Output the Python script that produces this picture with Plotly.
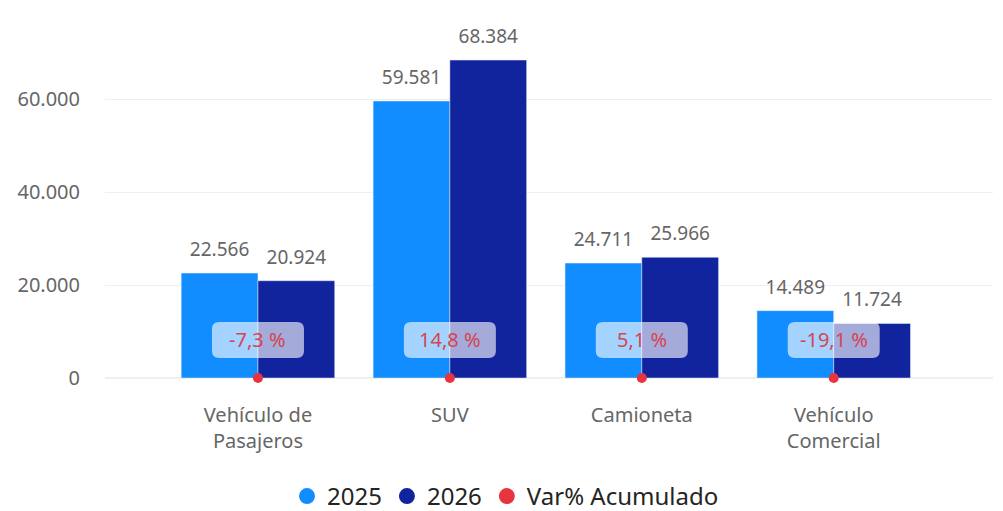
import plotly.graph_objects as go

categories = ["Vehículo de<br>Pasajeros", "SUV", "Camioneta", "Vehículo<br>Comercial"]
values_2025 = [22566, 59581, 24711, 14489]
values_2026 = [20924, 68384, 25966, 11724]
var_pct = [-7.3, 14.8, 5.1, -19.1]
y_ticks = [0, 20000, 40000, 60000]

C2025 = "#118DFF"
C2026 = "#12239E"
CRED = "#E8343D"
GRAY = "#666666"
FONT = "Noto Sans, Open Sans, sans-serif"

# the page body has an 8px margin, so the figure is 8px smaller each way
FIG_W, FIG_H = 995, 503
M_L, M_R, M_T, M_B = 97, 10, 12, 133
Y_MAX = 77000
X_RANGE = [-0.797, 3.83]
PLOT_W = FIG_W - M_L - M_R
PLOT_H = FIG_H - M_T - M_B

fig = go.Figure()
fig.add_trace(go.Bar(
    x=categories, y=values_2025, name="2025", marker_color=C2025,
    offsetgroup="a", showlegend=False,
))
fig.add_trace(go.Bar(
    x=categories, y=values_2026, name="2026", marker_color=C2026,
    offsetgroup="b", showlegend=False,
))
# data labels as grouped scatter text, sitting a bit above bars
for vals, grp in [(values_2025, "a"), (values_2026, "b")]:
    fig.add_trace(go.Scatter(
        x=categories, y=vals, mode="markers+text", offsetgroup=grp,
        marker=dict(size=18, color="rgba(0,0,0,0)"),
        text=[f"{v:,}".replace(",", ".") for v in vals],
        textposition="top center", cliponaxis=False,
        textfont=dict(color=GRAY, size=19, family=FONT),
        showlegend=False, hoverinfo="skip",
    ))
# var% points on an overlaid x axis so they are not grouped
fig.add_trace(go.Scatter(
    x=categories, y=[0] * len(categories), mode="markers", name="Var% Acumulado",
    marker=dict(color=CRED, size=10), cliponaxis=False, showlegend=False,
    xaxis="x2", yaxis="y2", customdata=var_pct,
))
# legend entries with circle markers (on hidden axes)
for nm, col in [("2025", C2025), ("2026", C2026), ("Var% Acumulado", CRED)]:
    fig.add_trace(go.Scatter(x=[None], y=[None], mode="markers", name=nm,
                             marker=dict(color=col, size=21), xaxis="x2", yaxis="y2"))

# rounded label boxes for the var% values
label_y = 8200
px_x = (X_RANGE[1] - X_RANGE[0]) / PLOT_W
px_y = Y_MAX / PLOT_H
hw, hh, r = 46 * px_x, 18 * px_y, 7
rx, ry = r * px_x, r * px_y
for i, (cat, v) in enumerate(zip(categories, var_pct)):
    x0, x1 = i - hw, i + hw
    y0, y1 = label_y - hh, label_y + hh
    path = (f"M {x0+rx},{y0} L {x1-rx},{y0} Q {x1},{y0} {x1},{y0+ry} "
            f"L {x1},{y1-ry} Q {x1},{y1} {x1-rx},{y1} L {x0+rx},{y1} "
            f"Q {x0},{y1} {x0},{y1-ry} L {x0},{y0+ry} Q {x0},{y0} {x0+rx},{y0} Z")
    fig.add_shape(type="path", path=path, xref="x", yref="y",
                  fillcolor="rgba(255,255,255,0.62)", line=dict(width=0), layer="above")
    txt = f"{v:.1f}".replace(".", ",") + " %"
    fig.add_annotation(
        x=cat, y=label_y, text=txt, showarrow=False,
        font=dict(color="#D64550", size=20, family=FONT),
    )

fig.update_layout(
    width=FIG_W, height=FIG_H,
    margin=dict(l=M_L, r=M_R, t=M_T, b=M_B, autoexpand=False),
    plot_bgcolor="white", paper_bgcolor="white",
    separators=",.",
    barmode="group", bargap=0.2, bargroupgap=0,
    scattermode="group", scattergap=0.2,
    font=dict(family=FONT, color=GRAY, size=19),
    legend=dict(orientation="h", xref="container",
                x=0.5, xanchor="center", y=-0.331, yanchor="middle",
                font=dict(color="#252423", size=24, family=FONT),
                itemsizing="trace", itemwidth=30, tracegroupgap=0),
    xaxis=dict(range=X_RANGE, showgrid=False, showline=False, ticks="",
               automargin=False, categoryorder="array", categoryarray=categories,
               tickfont=dict(size=20, color=GRAY), ticklabelstandoff=23),
    xaxis2=dict(range=X_RANGE, overlaying="x", visible=False,
                categoryorder="array", categoryarray=categories),
    yaxis=dict(range=[0, Y_MAX], tickvals=y_ticks, tickformat=",d",
               automargin=False,
               showgrid=True, gridcolor="#EFEFEF", gridwidth=1, zeroline=True,
               zerolinecolor="#EFEFEF", ticks="", ticklabelstandoff=24,
               tickfont=dict(size=20, color=GRAY)),
    yaxis2=dict(range=[0, Y_MAX], overlaying="y", visible=False),
)

fig.write_html("out.html")
